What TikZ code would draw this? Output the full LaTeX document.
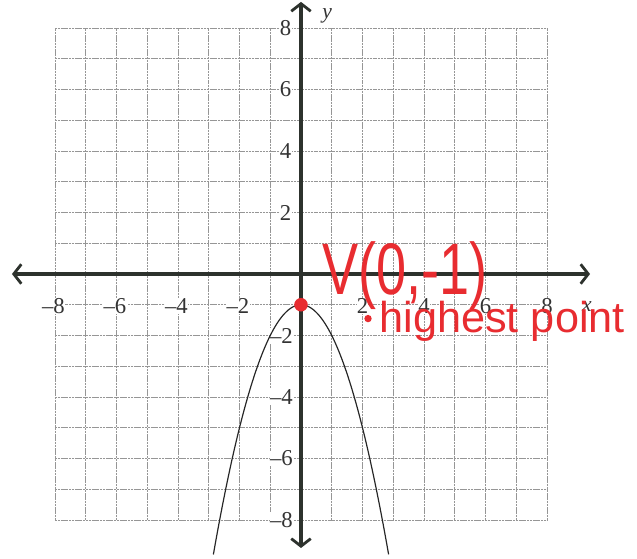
\documentclass[tikz,border=0pt]{standalone}
\usepackage{fontspec}
\setmainfont{Liberation Serif}
\newfontfamily\handfont{Liberation Sans}
\usetikzlibrary{arrows.meta}
\definecolor{inkred}{RGB}{232,44,48}
\definecolor{axisgray}{RGB}{45,50,45}
\definecolor{gridgray}{RGB}{150,150,150}
\tikzset{
  gridline/.style={draw=gridgray, line width=0.7pt, dash pattern=on 2pt off 0.6pt},
  axisline/.style={draw=axisgray, line width=3.4pt, {Straight Barb[length=7pt,width=18pt,line width=2.6pt]}-{Straight Barb[length=7pt,width=18pt,line width=2.6pt]}},
  ticklabel/.style={font=\fontsize{21}{21}\selectfont, text=black!80, fill=white, inner sep=0.3pt},
  curve/.style={draw=black!85, line width=1.1pt},
  redtext/.style={text=inkred, inner sep=0pt}
}
\begin{document}
\begin{tikzpicture}[x=1cm,y=1cm]
\useasboundingbox (-9.789,-9.268) rectangle (10.927,8.911);
% grid
\foreach \k in {-8,...,8} {
  \draw[gridline] (\k,-8) -- (\k,8);
  \draw[gridline] (-8,\k) -- (8,\k);
}
% tick labels
\foreach \k in {8,6,4,2} {
  \node[ticklabel] (xln\k) at (-\k-0.05,-1.05) {\textendash\k};
  \node[ticklabel] (xl\k) at (\k,-1.05) {\k};
  \node[ticklabel, anchor=east] (yl\k) at (-0.3,\k) {\k};
  \node[ticklabel, anchor=east] (yln\k) at (-0.25,-\k) {\textendash\k};
}
\node[ticklabel, fill=none, font=\fontsize{20}{20}\selectfont\itshape] (xlab) at (9.3,-1.05) {x};
\node[ticklabel, fill=none, font=\fontsize{20}{20}\selectfont\itshape] (ylab) at (0.85,8.4) {y};
% axes
\coordinate (xw) at (-9.4,0);
\coordinate (xe) at (9.4,0);
\coordinate (yn) at (0,8.85);
\coordinate (ys) at (0,-8.91);
\draw[axisline] (xw) -- (xe);
\draw[axisline] (ys) -- (yn);
% parabola y = -x^2 - 1
\draw[curve] plot[domain=-2.85:2.85, samples=80, smooth] (\x,{-\x*\x-1});
% vertex
\fill[inkred] (0,-1) circle (0.22);
\node[redtext] (vlab) at (3.38,-0.05) {\scalebox{1}[1.35]{\handfont\fontsize{50}{50}\selectfont V(0,-1)}};
\fill[inkred] (2.18,-1.45) circle (0.12);
\node[redtext, anchor=base west] (hp) at (2.55,-1.9) {\handfont\fontsize{40}{40}\selectfont highest point};
\end{tikzpicture}
\end{document}
